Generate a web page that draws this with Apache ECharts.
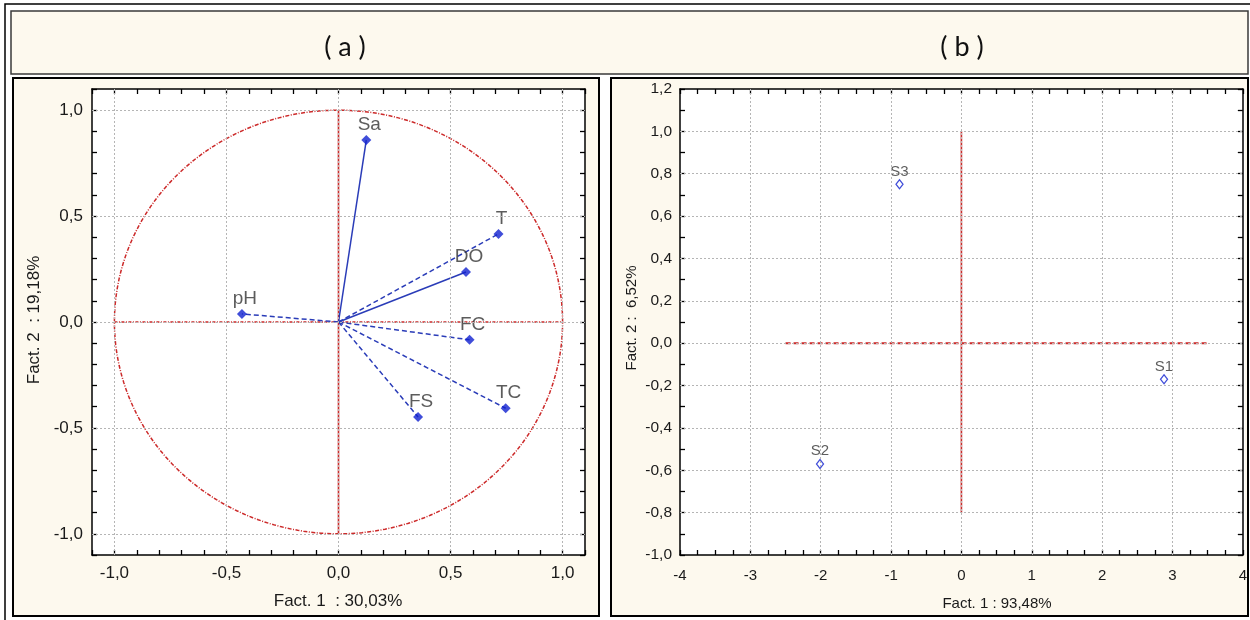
<!DOCTYPE html>
<html>
<head>
<meta charset="utf-8">
<title>PCA – Fact. 1 / Fact. 2</title>
<script src="https://cdn.jsdelivr.net/npm/echarts@6/dist/echarts.min.js"></script>
<style>
  html, body { margin: 0; padding: 0; background: #ffffff; }
  #chart { width: 1250px; height: 620px; }
</style>
</head>
<body>
<div id="chart"></div>
<script>
// (a) loadings of the variables on factors 1 and 2
const varNames = ['Sa', 'T', 'DO', 'FC', 'TC', 'FS', 'pH'];
const loadF1 = [0.124, 0.714, 0.569, 0.585, 0.746, 0.355, -0.431];
const loadF2 = [0.859, 0.416, 0.236, -0.084, -0.407, -0.448, 0.038];
const solidVectors = ['Sa', 'DO'];

// (b) scores of the sites on factors 1 and 2
const siteNames = ['S1', 'S2', 'S3'];
const scoreF1 = [2.88, -2.01, -0.88];
const scoreF2 = [-0.17, -0.57, 0.75];

// gridline positions
const gridA = [-1.0, -0.5, 0.0, 0.5, 1.0];
const gridBx = [-3, -2, -1, 0, 1, 2, 3];
const gridBy = [-0.8, -0.6, -0.4, -0.2, 0.0, 0.2, 0.4, 0.6, 0.8, 1.0];

// reference cross lines
const crossA = { h: [[-1, 0], [1, 0]], v: [[0, -1], [0, 1]] };
const crossB = { h: [[-2.5, 0], [3.5, 0]], v: [[0, -0.8], [0, 1.0]] };

// axis names
const nameA = { x: 'Fact. 1  : 30,03%', y: 'Fact. 2  : 19,18%' };
const nameB = { x: 'Fact. 1 : 93,48%', y: 'Fact. 2 :  6,52%' };

// unit correlation circle
const circleSteps = 240;
const unitCircle = [];
for (let i = 0; i <= circleSteps; i++) {
  const t = (i / circleSteps) * Math.PI * 2;
  unitCircle.push([Math.cos(t), Math.sin(t)]);
}

const FONT = 'Arial, "Liberation Sans", sans-serif';
const CREAM = '#fdf9ee';
const BLUE = '#1020d0';
const BLUE_LINE = '#2a3cb8';
const RED = '#cc2a2a';

function fmtHalf(v) {
  const r = Math.round(v * 10);
  return r % 5 === 0 ? (r / 10).toFixed(1).replace('.', ',') : '';
}
function fmtFifth(v) {
  const r = Math.round(v * 10);
  return r % 2 === 0 ? (r / 10).toFixed(1).replace('.', ',') : '';
}
function fmtInt(v) {
  return Math.abs(v - Math.round(v)) < 1e-6 ? String(Math.round(v)) : '';
}

function valueAxis(gridIndex, position, min, max, interval, formatter, margin, fontSize) {
  return {
    type: 'value', gridIndex, position, min, max, interval,
    axisLine: { show: true, onZero: false, lineStyle: { color: '#000', width: 1.5 } },
    axisTick: { show: true, inside: true, length: 5, lineStyle: { color: '#000', width: 1.3 } },
    axisLabel: formatter ? {
      show: true, formatter, margin, color: '#1a1a1a', fontSize: fontSize, fontFamily: FONT
    } : { show: false },
    splitLine: { show: false }
  };
}

const gridStyle = { color: '#b5b5b5', width: 1, type: [2, 2] };
function gridSeries(xi, yi, xs, ys) {
  return {
    type: 'line', xAxisIndex: xi, yAxisIndex: yi, data: [], z: 1, silent: true,
    markLine: {
      silent: true, symbol: 'none', label: { show: false }, animation: false,
      lineStyle: gridStyle,
      data: xs.map(v => ({ xAxis: v })).concat(ys.map(v => ({ yAxis: v })))
    }
  };
}

function segment(xi, yi, pts, lineStyle, z) {
  return {
    type: 'line', xAxisIndex: xi, yAxisIndex: yi, data: pts, symbol: 'none',
    silent: true, z: z || 2, lineStyle, animation: false
  };
}

const series = [];
// panel (a)
series.push(gridSeries(0, 0, gridA, gridA));
series.push(segment(0, 0, unitCircle, { color: RED, width: 1.5, type: [4, 1.5, 1, 1.5] }));
series.push(segment(0, 0, crossA.h, { color: RED, width: 1.4, type: [3, 1.5, 1, 1.5] }));
series.push(segment(0, 0, crossA.v, { color: RED, width: 1.6, type: 'solid' }));
varNames.forEach((n, i) => {
  const solid = solidVectors.indexOf(n) >= 0;
  series.push(segment(0, 0, [[0, 0], [loadF1[i], loadF2[i]]],
    { color: BLUE_LINE, width: 1.5, type: solid ? 'solid' : [5, 3] }, 3));
});
series.push({
  type: 'scatter', xAxisIndex: 0, yAxisIndex: 0, z: 4,
  symbol: 'diamond', symbolSize: [10, 10],
  itemStyle: { color: BLUE },
  label: {
    show: true, position: 'top', distance: 1, offset: [3, 0], formatter: '{b}',
    color: '#333', fontSize: 19, fontFamily: FONT
  },
  data: varNames.map((n, i) => ({ name: n, value: [loadF1[i], loadF2[i]] }))
});
// panel (b)
series.push(gridSeries(2, 2, gridBx, gridBy));
series.push(segment(2, 2, crossB.h, { color: RED, width: 2, type: [5, 3] }));
series.push(segment(2, 2, crossB.v, { color: RED, width: 1.6, type: 'solid' }));
series.push({
  type: 'scatter', xAxisIndex: 2, yAxisIndex: 2, z: 4,
  symbol: 'diamond', symbolSize: [7, 9],
  itemStyle: { color: '#ffffff', borderColor: BLUE, borderWidth: 1.3 },
  label: {
    show: true, position: 'top', distance: 0, formatter: '{b}',
    color: '#333', fontSize: 15, fontFamily: FONT
  },
  data: siteNames.map((n, i) => ({ name: n, value: [scoreF1[i], scoreF2[i]] }))
});

const option = {
  animation: false,
  backgroundColor: '#ffffff',
  grid: [
    { left: 92, top: 89, width: 493, height: 466, show: false, containLabel: false },
    { left: 680, top: 89, width: 565, height: 466, show: false, containLabel: false }
  ],
  xAxis: [
    valueAxis(0, 'bottom', -1.1, 1.1, 0.1, fmtHalf, 10, 17),
    valueAxis(0, 'top', -1.1, 1.1, 0.1, null),
    valueAxis(1, 'bottom', -4, 4, 0.25, fmtInt, 13, 15),
    valueAxis(1, 'top', -4, 4, 0.25, null)
  ],
  yAxis: [
    valueAxis(0, 'left', -1.1, 1.1, 0.1, fmtHalf, 9, 17),
    valueAxis(0, 'right', -1.1, 1.1, 0.1, null),
    valueAxis(1, 'left', -1.0, 1.2, 0.1, fmtFifth, 8, 15.5),
    valueAxis(1, 'right', -1.0, 1.2, 0.1, null)
  ],
  graphic: [
    { type: 'rect', z: -10, silent: true, shape: { x: 5, y: 4, width: 1260, height: 630 },
      style: { fill: '#ffffff', stroke: '#000', lineWidth: 1.5 } },
    { type: 'rect', z: -9, silent: true, shape: { x: 11, y: 11, width: 1237, height: 63 },
      style: { fill: CREAM, stroke: '#3a3a3a', lineWidth: 1.5 } },
    { type: 'rect', z: -9, silent: true, shape: { x: 13, y: 78, width: 586, height: 538 },
      style: { fill: CREAM, stroke: '#000', lineWidth: 2 } },
    { type: 'rect', z: -9, silent: true, shape: { x: 611, y: 78, width: 637, height: 538 },
      style: { fill: CREAM, stroke: '#000', lineWidth: 2 } },
    // plot backgrounds
    { type: 'rect', z: -8, silent: true, shape: { x: 92, y: 89, width: 493, height: 466 },
      style: { fill: '#ffffff' } },
    { type: 'rect', z: -8, silent: true, shape: { x: 680, y: 89, width: 565, height: 466 },
      style: { fill: '#ffffff' } },
    { type: 'text', x: 345, y: 47, style: { text: '( a )', fill: '#111', font: '27px Lato, "Open Sans", sans-serif', align: 'center', verticalAlign: 'middle' } },
    { type: 'text', x: 962, y: 47, style: { text: '( b )', fill: '#111', font: '27px Lato, "Open Sans", sans-serif', align: 'center', verticalAlign: 'middle' } },
    { type: 'text', x: 338, y: 601, style: { text: nameA.x, fill: '#1a1a1a', font: '17px ' + FONT, align: 'center', verticalAlign: 'middle' } },
    { type: 'text', x: 34, y: 320, rotation: Math.PI / 2, style: { text: nameA.y, fill: '#1a1a1a', font: '17px ' + FONT, align: 'center', verticalAlign: 'middle' } },
    { type: 'text', x: 997, y: 604, style: { text: nameB.x, fill: '#1a1a1a', font: '15px ' + FONT, align: 'center', verticalAlign: 'middle' } },
    { type: 'text', x: 632, y: 318, rotation: Math.PI / 2, style: { text: nameB.y, fill: '#1a1a1a', font: '15px ' + FONT, align: 'center', verticalAlign: 'middle' } }
  ],
  series
};

const chart = echarts.init(document.getElementById('chart'), null, { renderer: 'canvas' });
chart.setOption(option);
</script>
</body>
</html>
